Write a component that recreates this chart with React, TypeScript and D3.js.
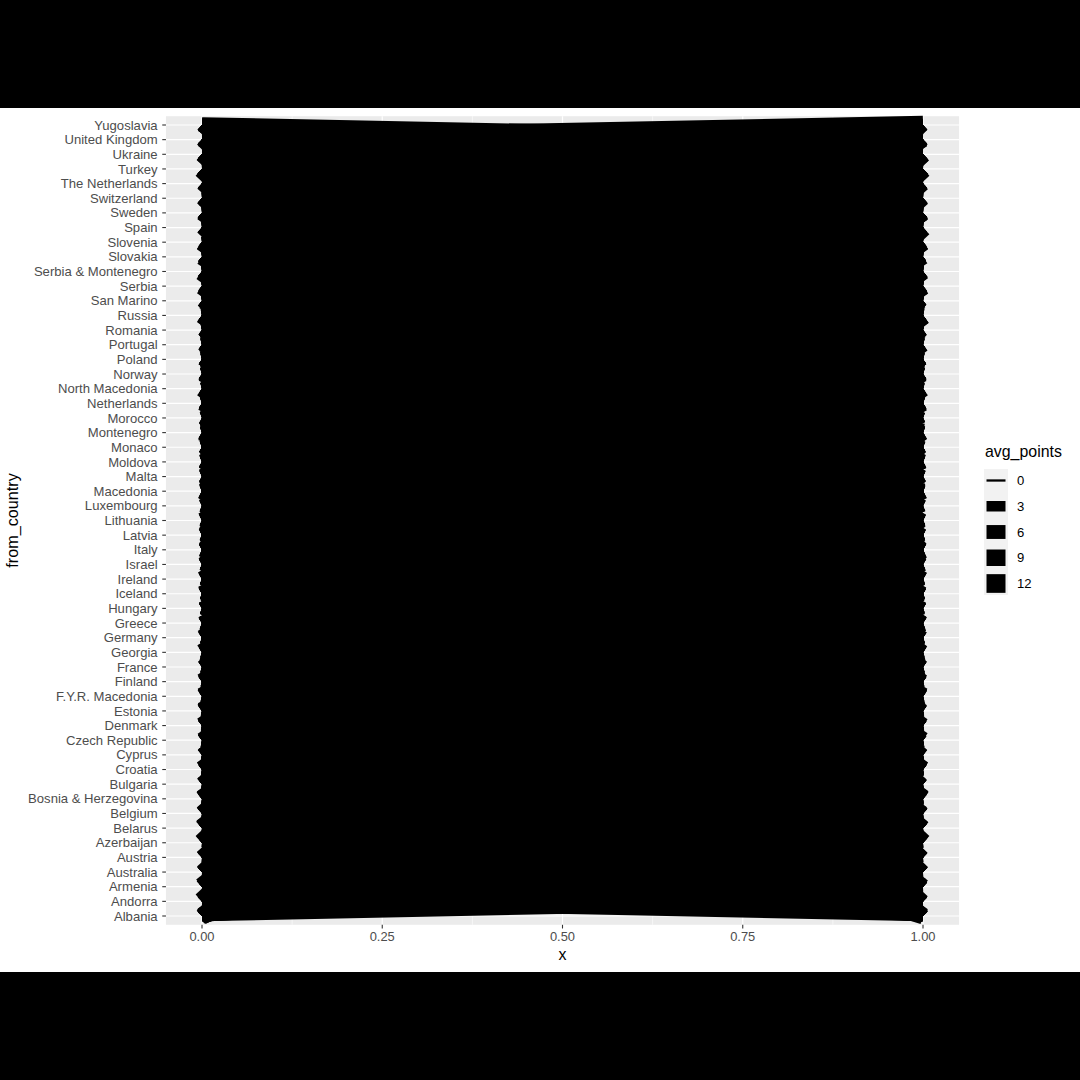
import React from "react";
import * as d3 from "d3";

// Countries, bottom (first) to top (last) of the discrete y scale
const countries: string[] = [
  "Albania", "Andorra", "Armenia", "Australia", "Austria",
  "Azerbaijan", "Belarus", "Belgium", "Bosnia & Herzegovina", "Bulgaria",
  "Croatia", "Cyprus", "Czech Republic", "Denmark", "Estonia",
  "F.Y.R. Macedonia", "Finland", "France", "Georgia", "Germany",
  "Greece", "Hungary", "Iceland", "Ireland", "Israel",
  "Italy", "Latvia", "Lithuania", "Luxembourg", "Macedonia",
  "Malta", "Moldova", "Monaco", "Montenegro", "Morocco",
  "Netherlands", "North Macedonia", "Norway", "Poland", "Portugal",
  "Romania", "Russia", "San Marino", "Serbia", "Serbia & Montenegro",
  "Slovakia", "Slovenia", "Spain", "Sweden", "Switzerland",
  "The Netherlands", "Turkey", "Ukraine", "United Kingdom", "Yugoslavia",
];

// avg_points from each from_country (row) to each to_country (column, same order).
// '.' = no pair, 0-9 / a=10, b=11, c=12
const avgPointRows: string[] = [
  ".3342 31243 36122 82323 92213 a11.8 3217. 29222 33346 13345 2732.",
  "3.2.2 21322 22232 23423 41223 212.1 3241. 2.237 43323 12c43 2543.",
  "32.32 .7313 26112 31983 61114 312.3 2512. 32321 4c22. .2242 2.72.",
  "3.3.4 32424 25334 23323 22426 623.1 43.1. 53534 3433. .2374 5.55.",
  "4225. 21462 52433 33326 44345 52233 22331 54443 33267 25457 46444",
  "22.21 .8233 23122 31273 52112 323.4 2623. 24321 4a23. .2142 2c92.",
  "21532 6.223 33223 22273 32213 345.2 2623. 23342 3c245 22252 32a2.",
  "32443 31.23 33233 13624 42344 52341 31312 83435 33122 22464 78355",
  "42234 322.3 93222 72323 43223 322.6 2228. 27322 342b9 39344 2932.",
  "42532 4323. 38222 62343 a2214 422.5 2423. 26322 57245 22343 2762.",
  "32234 223a2 .3322 72323 34233 422.6 4127. 37423 23298 3a343 3333.",
  "42642 32326 2.222 42433 c2235 52234 42331 34323 56244 22443 3.545",
  "2.254 32322 32.33 23324 33334 523.1 32.3. 33442 2413. 83355 3254.",
  "22253 32422 232.6 26324 33755 34332 32221 52833 34233 23394 44454",
  "22343 33222 2235. 28333 33433 386.2 23.2. 32622 3a233 22283 3364.",
  "923.3 33275 73322 .2223 42223 322.. 2328. 2.222 342a9 37343 2742.",
  "22243 33322 22247 2.324 33544 33332 22222 42632 26232 22394 43453",
  "32733 22522 23233 23.34 42345 62242 32422 42436 34122 22555 44354",
  "32932 65223 23222 223.2 42223 336.2 2422. 22322 3923. .2242 2492.",
  "32344 32423 33343 2332. 53346 63341 32322 52533 35244 22555 58544",
  "52632 43236 2c222 42343 .2224 52233 33232 24223 56245 22443 25533",
  "32344 42333 43333 33324 4.334 52222 32.3. 33432 55244 44354 3443.",
  "22343 32322 23374 25323 33.43 33332 32221 42733 24233 22384 33464",
  "22343 32322 23344 24423 434.4 46732 42221 42563 34232 22454 43484",
  "22443 33322 24233 23534 4233. 43332 33321 42434 58233 22554 44644",
  "6.343 32323 33233 33533 43234 .2223 5533. 33335 85643 23745 44543",
  "22333 34222 22348 24343 33443 3.9.2 23.2. 22432 3a233 22273 3364.",
  "22333 34222 22347 23383 33363 39..2 23.2. 22442 38233 22263 3385.",
  "....3 ..53. 43.33 .36.4 3.355 4.3.. 3.4.2 4.4.4 .3... .3445 33.54",
  "82333 33275 73322 .2223 42223 322.. 2327. 2.322 34298 37343 2742.",
  "32353 43323 24233 22333 42343 62332 .3222 32333 45433 22464 34474",
  "32432 55223 23222 22353 42223 423.2 2.22. 22333 c8233 22232 2572.",
  "333.3 23433 34.33 335.4 43344 63343 43.33 43334 35.34 33544 45543",
  "62232 33292 63222 72222 42222 322.6 232.. 27222 352c9 25232 2342.",
  "....4 ..5.. .3.4. .36.5 4..5a 6..4. ..2.. 3.4.4 ..... ..544 45.54",
  "32343 32733 33243 23424 43445 42342 32322 .2534 34233 22464 .7454",
  "9.233 22354 63332 .2223 52223 522.. 33.6. 3.333 3338. .5444 2.44.",
  "22353 33322 23375 26324 33644 34432 32221 42.43 25233 22394 43454",
  "22344 34322 33433 23344 34344 436.2 33.2. 425.3 36233 43364 4494.",
  "34343 33323 23333 23633 42334 52332 35322 3233. 65333 22854 44643",
  "33343 43323 34222 32333 55224 723.3 3c23. 33334 .5333 22643 3563.",
  "32843 79333 24224 32363 53225 454.3 2733. 33322 3.354 22353 3493.",
  "5.443 43333 34333 33343 53335 833.3 43.3. 43334 46.4. .3454 3454.",
  "42233 332a3 73322 82223 54223 422.8 23.b. 28322 352.. .8343 2342.",
  "544.3 .33c3 95.23 a33.3 63233 333.7 445.. 2.333 56... .8334 3653.",
  "333.4 44333 53934 33334 45344 434.3 4333. 43453 45344 .5344 3464.",
  "32234 22392 a3333 73323 34333 422.6 3226. 36423 23297 3.344 3333.",
  "36343 33323 33333 23534 42344 62332 44333 42437 65333 33.54 44554",
  "32363 33322 23386 27324 33645 34432 32221 42943 25233 223.4 43554",
  "63345 33443 53333 53535 53334 72344 32342 44437 34365 3455. 46444",
  "32453 33633 33343 23434 43445 433.2 33.3. .2544 34333 32464 .655.",
  "63.34 c3594 33333 63354 43223 33334 34353 44333 35356 33344 5.534",
  "33443 78333 33334 33373 43333 455.3 37.3. 33363 49344 33353 35.4.",
  "33364 33433 34344 23434 43474 44542 53423 52554 34333 33465 446.c",
  "....5 ..4.. .5.3. .45.5 6.365 6..4. 4.4.3 4.4.5 ..... ..665 46.8.",
];

const xTicks: number[] = [0, 0.25, 0.5, 0.75, 1];
const xTickLabels: string[] = ["0.00", "0.25", "0.50", "0.75", "1.00"];
const xMinorTicks: number[] = [0.125, 0.375, 0.625, 0.875];
const legendBreaks: number[] = [0, 3, 6, 9, 12];

type Flow = { from: string; to: string; avg: number };

const flows: Flow[] = [];
avgPointRows.forEach((row, i) => {
  const chars = row.replace(/\s+/g, "");
  for (let j = 0; j < countries.length && j < chars.length; j++) {
    const c = chars[j];
    if (c === ".") continue;
    const v = parseInt(c, 16);
    if (isNaN(v)) continue;
    flows.push({ from: countries[i], to: countries[j], avg: v });
  }
});

const FONT = "'Liberation Sans', Arial, Helvetica, sans-serif";

export default function App() {
  const W = 1080;
  const H = 1080;

  const x = d3.scaleLinear().domain([0, 1]).range([202, 923]);
  const y = d3.scalePoint<string>().domain(countries).range([916, 125]);
  const step = y.step();
  const width = d3.scalePow().exponent(0.5).domain([0, 12]).range([2.3, 18.7]);

  const panelLeft = x(-0.05);
  const panelRight = x(1.05);
  const panelTop = (y(countries[countries.length - 1]) as number) - 0.6 * step;
  const panelBottom = (y(countries[0]) as number) + 0.6 * step;

  const legendX0 = 984;
  const legendKeyW = 24;
  const legendCenter0 = 480.5;
  const legendStep = 25.75;

  return (
    <svg
      width={W}
      height={H}
      style={{ position: "absolute", left: 0, top: 0, display: "block" }}
      fontFamily={FONT}
    >
      <rect x={0} y={0} width={W} height={H} fill="#ffffff" />
      <rect x={0} y={0} width={W} height={108} fill="#000000" />
      <rect x={0} y={972} width={W} height={108} fill="#000000" />

      {/* panel */}
      <rect
        x={panelLeft}
        y={panelTop}
        width={panelRight - panelLeft}
        height={panelBottom - panelTop}
        fill="#EBEBEB"
      />
      {xMinorTicks.map((t) => (
        <line key={"mx" + t} x1={x(t)} x2={x(t)} y1={panelTop} y2={panelBottom} stroke="#fff" strokeWidth={0.6} />
      ))}
      {xTicks.map((t) => (
        <line key={"gx" + t} x1={x(t)} x2={x(t)} y1={panelTop} y2={panelBottom} stroke="#fff" strokeWidth={1.2} />
      ))}
      {countries.map((c) => (
        <line key={"gy" + c} x1={panelLeft} x2={panelRight} y1={y(c)} y2={y(c)} stroke="#fff" strokeWidth={1.2} />
      ))}

      {/* segments */}
      <g>
        {flows.map((f, i) => (
          <line
            key={i}
            x1={x(0)}
            y1={y(f.from)}
            x2={x(1)}
            y2={y(f.to)}
            stroke="#000"
            strokeWidth={width(f.avg)}
            strokeLinecap="butt"
          />
        ))}
      </g>

      {/* y axis */}
      {countries.map((c) => (
        <g key={"ty" + c}>
          <line x1={panelLeft - 3.7} x2={panelLeft} y1={y(c)} y2={y(c)} stroke="#333333" strokeWidth={1.1} />
          <text
            x={panelLeft - 8.3}
            y={(y(c) as number) + 4.6}
            textAnchor="end"
            fontSize={13.1}
            fill="#4D4D4D"
          >
            {c}
          </text>
        </g>
      ))}

      {/* x axis */}
      {xTicks.map((t, i) => (
        <g key={"tx" + t}>
          <line x1={x(t)} x2={x(t)} y1={panelBottom} y2={panelBottom + 3.7} stroke="#333333" strokeWidth={1.1} />
          <text x={x(t)} y={941} textAnchor="middle" fontSize={12.9} fill="#4D4D4D">
            {xTickLabels[i]}
          </text>
        </g>
      ))}

      <text x={(panelLeft + panelRight) / 2} y={959.5} textAnchor="middle" fontSize={15.9} fill="#000">
        x
      </text>
      <text
        transform={`translate(18,${(panelTop + panelBottom) / 2}) rotate(-90)`}
        textAnchor="middle"
        fontSize={16.2}
        fill="#000"
      >
        from_country
      </text>

      {/* legend */}
      <text x={legendX0 + 1} y={457} fontSize={15.9} fill="#000">
        avg_points
      </text>
      <rect
        x={legendX0}
        y={legendCenter0 - 11.5}
        width={legendKeyW}
        height={legendStep * 4 + 23}
        fill="#F2F2F2"
      />
      {legendBreaks.map((b, i) => {
        const cy = legendCenter0 + i * legendStep;
        return (
          <g key={"lg" + b}>
            <line
              x1={legendX0 + 2.5}
              x2={legendX0 + legendKeyW - 2.5}
              y1={cy}
              y2={cy}
              stroke="#000"
              strokeWidth={width(b)}
            />
            <text x={1017} y={cy + 4.6} fontSize={13.1} fill="#000">
              {b}
            </text>
          </g>
        );
      })}
    </svg>
  );
}
